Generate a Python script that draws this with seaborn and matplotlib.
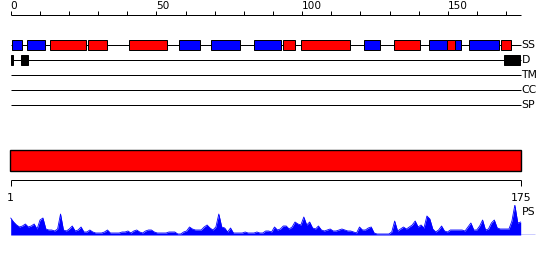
import numpy as np
import pandas as pd
import matplotlib
matplotlib.use("Agg")
import matplotlib.pyplot as plt
from matplotlib.patches import Rectangle
import seaborn as sns

# ---------------- data ----------------
seq_length = 175
top_ticks_major = [0, 50, 100, 150]
top_ticks_minor = list(range(0, 171, 10))
track_names = ["SS", "D", "TM", "CC", "SP"]

# secondary structure elements: start, end, type (H = helix/red, E = strand/blue)
ss_start = [0.55, 5.7, 13.6, 26.6, 40.6, 57.7, 68.7, 83.4, 93.4, 99.5, 121.4, 131.4, 143.4, 149.6, 152.4, 157.4, 168.4]
ss_end   = [3.8, 11.6, 25.7, 32.9, 53.6, 64.8, 78.8, 92.8, 97.6, 116.4, 126.7, 140.4, 149.6, 152.4, 154.6, 167.5, 171.6]
ss_type  = ["E", "E", "H", "H", "H", "E", "E", "E", "H", "H", "E", "H", "E", "H", "E", "E", "H"]

# disordered regions
dis_start = [0.0, 3.6, 169.2]
dis_end   = [0.7, 5.9, 174.6]

# domain bar
domain_start = [1]
domain_end = [175]

# PS profile, one value per residue 1..175
ps_values = [
    17, 13, 10, 8, 9, 11, 8, 9, 11, 6,
    15, 17, 6, 5, 5, 4, 6, 21, 5, 4,
    6, 9, 4, 5, 8, 3, 3, 5, 3, 2,
    2, 2, 3, 5, 2, 2, 2, 2, 3, 3,
    4, 2, 4, 5, 3, 2, 4, 5, 5, 3,
    2, 2, 2, 2, 3, 3, 3, 1, 1, 3,
    4, 8, 6, 5, 5, 5, 8, 10, 7, 5,
    8, 21, 8, 7, 3, 7, 2, 2, 2, 2,
    3, 2, 2, 2, 3, 2, 2, 4, 4, 3,
    8, 5, 6, 9, 9, 6, 8, 13, 11, 10,
    18, 10, 13, 7, 6, 9, 5, 4, 5, 6,
    4, 4, 5, 6, 5, 4, 4, 3, 2, 8,
    5, 5, 7, 8, 2, 1, 1, 1, 1, 1,
    3, 14, 4, 6, 8, 6, 8, 10, 14, 8,
    10, 7, 19, 16, 6, 3, 5, 9, 4, 3,
    5, 5, 5, 5, 5, 4, 8, 12, 5, 5,
    9, 15, 5, 6, 12, 15, 7, 6, 6, 6,
    6, 14, 30, 12, 13,
]
residues = list(range(1, seq_length + 1))

# ---------------- layout ----------------
W, H = 550, 260
sns.set_theme(style="white")
plt.rcParams["font.family"] = ["DejaVu Sans"]

fig = plt.figure(figsize=(W / 100, H / 100), dpi=100)
fig.patch.set_facecolor("white")

px = 0.72  # one pixel in points
RED = "#ff0000"
BLUE = "#0000ff"

# top scale: 0 at 10.7px, 175 at 520.7px
top_ppu = (520.7 - 10.7) / 175.0
ax_top = fig.add_axes([0, 0, 1, 1])
ax_top.set_xlim(-10.7 / top_ppu, (W - 10.7) / top_ppu)
ax_top.set_ylim(H, 0)
ax_top.axis("off")

# bottom scale: 1 at 10.7px, 175 at 520.7px
bot_ppu = (520.7 - 10.7) / 174.0
bx0 = 1 - 10.7 / bot_ppu
bx1 = 1 + (W - 10.7) / bot_ppu
ax_bot = fig.add_axes([0, 0, 1, 1])
ax_bot.set_xlim(bx0, bx1)
ax_bot.set_ylim(H, 0)
ax_bot.axis("off")
ax_bot.patch.set_alpha(0)

# ---- top ruler ----
ruler_y = 14.7
ax_top.plot([0, seq_length], [ruler_y, ruler_y], color="black", lw=px, solid_capstyle="butt")
for t in top_ticks_minor:
    ax_top.plot([t, t], [ruler_y, 10.8], color="black", lw=px, solid_capstyle="butt")
for t in top_ticks_major:
    ax_top.text(t, 9.3, str(t), ha="left", va="baseline", fontsize=7.6, color="black")

# ---- tracks ----
track_y = [45, 60, 75, 90, 105]
for name, y in zip(track_names, track_y):
    ax_top.plot([0, seq_length], [y, y], color="black", lw=px, solid_capstyle="butt", zorder=1)
    ax_top.text(175.25, y, name, ha="left", va="center", fontsize=7.8, color="black")

box_h = 10.5
for s, e, t in zip(ss_start, ss_end, ss_type):
    ax_top.add_patch(Rectangle((s, 45 - box_h / 2), e - s, box_h,
                               facecolor=RED if t == "H" else BLUE,
                               edgecolor="black", lw=px, zorder=2))
for s, e in zip(dis_start, dis_end):
    ax_top.add_patch(Rectangle((s, 60 - box_h / 2), e - s, box_h,
                               facecolor="black", edgecolor="black", lw=px, zorder=2))

# ---- domain bar ----
for s, e in zip(domain_start, domain_end):
    ax_bot.add_patch(Rectangle((s - 0.15, 150.2), e - s + 0.15, 20.4,
                               facecolor=RED, edgecolor="black", lw=1.0, zorder=2))

# ---- bottom ruler ----
by = 180.3
ax_bot.plot([1, seq_length], [by, by], color="black", lw=px, solid_capstyle="butt")
for t in [1, seq_length]:
    ax_bot.plot([t, t], [by, 185.5], color="black", lw=px, solid_capstyle="butt")
    ax_bot.text(t, 201, str(t), ha="center", va="baseline", fontsize=7.8, color="black")

ax_bot.text(1 + (521.5 - 10.7) / bot_ppu, 215, "PS", ha="left", va="baseline",
            fontsize=7.8, color="black")

# ---- PS profile ----
base_px, top_px = 235.0, 205.0
ax_ps = fig.add_axes([0, (H - base_px) / H, 1, (base_px - top_px) / H])
ax_ps.set_xlim(bx0, bx1)
ax_ps.set_ylim(0, 30)
ax_ps.axis("off")
ax_ps.patch.set_alpha(0)
df = pd.DataFrame({"residue": residues, "ps": ps_values})
ax_ps.fill_between(df["residue"], 0, df["ps"], color=BLUE, lw=0)
sns.lineplot(data=df, x="residue", y="ps", ax=ax_ps, color=BLUE, lw=0.6, legend=False)
ax_ps.plot([1, 1 + (535 - 10.7) / bot_ppu], [0, 0], color=BLUE, lw=1.0, solid_capstyle="butt")
ax_ps.set_xlabel("")
ax_ps.set_ylabel("")
ax_ps.set_xlim(bx0, bx1)
ax_ps.set_ylim(0, 30)

fig.savefig("out.png", dpi=100, facecolor="white")
